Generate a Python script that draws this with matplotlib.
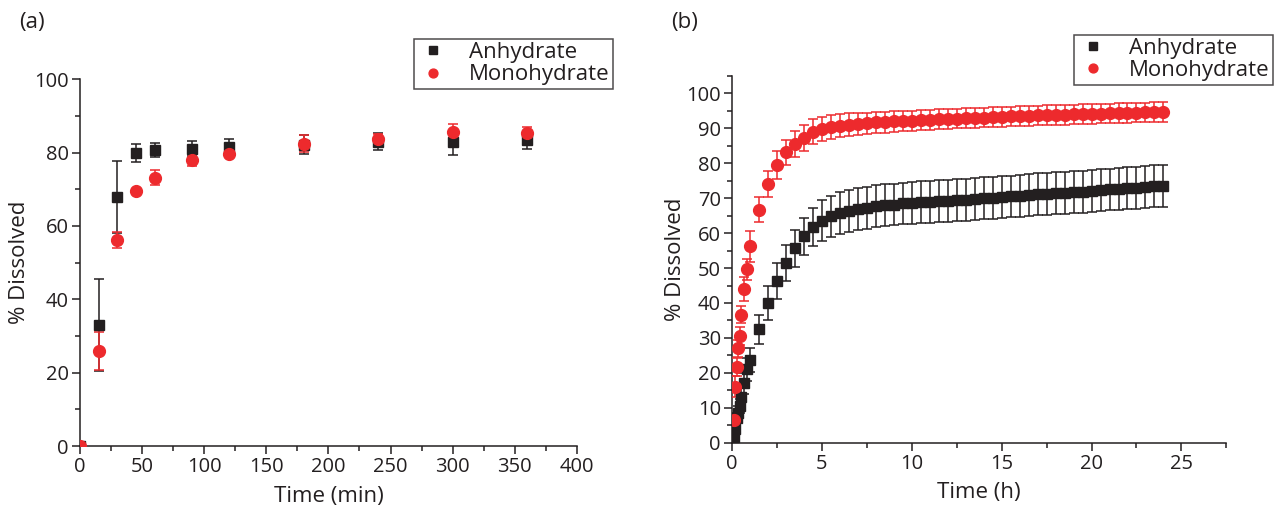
import numpy as np
import matplotlib
matplotlib.use("Agg")
import matplotlib.pyplot as plt
from matplotlib.ticker import MultipleLocator

plt.rcParams['font.family'] = ['Open Sans', 'DejaVu Sans']

BLACK = '#231f20'
RED = '#ed2a2d'

# (a) dissolution over minutes
t_min = [0, 15, 30, 45, 60, 90, 120, 180, 240, 300, 360]
anh_a = [0, 33.0, 67.9, 79.9, 80.7, 81.1, 81.5, 82.2, 83.0, 82.8, 83.3]
anh_a_err = [0, 12.5, 9.7, 2.5, 1.8, 2.0, 2.2, 2.5, 2.3, 3.4, 2.3]
mono_a = [0, 26.0, 56.2, 69.5, 73.2, 78.0, 79.6, 82.4, 83.7, 85.5, 85.3]
mono_a_err = [0, 5.2, 2.1, 0.5, 2.0, 1.7, 0.5, 2.3, 1.5, 2.4, 1.6]

# (b) dissolution over hours
t_h = [0.083, 0.167, 0.25, 0.333, 0.417, 0.5, 0.667, 0.833, 1.0,
       1.5, 2.0, 2.5, 3.0, 3.5, 4.0, 4.5, 5.0, 5.5, 6.0, 6.5, 7.0, 7.5,
       8.0, 8.5, 9.0, 9.5, 10.0, 10.5, 11.0, 11.5, 12.0, 12.5, 13.0, 13.5,
       14.0, 14.5, 15.0, 15.5, 16.0, 16.5, 17.0, 17.5, 18.0, 18.5, 19.0,
       19.5, 20.0, 20.5, 21.0, 21.5, 22.0, 22.5, 23.0, 23.5, 24.0]
anh_b = [1.5, 4.0, 7.0, 8.5, 10.5, 13.2, 17.0, 21.0, 23.7,
         32.5, 40.0, 46.3, 51.5, 55.7, 59.1, 61.8, 63.6, 64.8, 65.7, 66.4,
         67.0, 67.3, 67.7, 68.0, 68.2, 68.5, 68.6, 68.8, 69.0, 69.1, 69.3,
         69.5, 69.6, 69.8, 70.0, 70.1, 70.3, 70.5, 70.7, 70.9, 71.1, 71.2,
         71.4, 71.6, 71.8, 71.9, 72.1, 72.3, 72.5, 72.6, 72.8, 73.0, 73.2,
         73.4, 73.6]
anh_b_err = [0.5, 1.0, 1.5, 2.0, 2.0, 2.5, 3.0, 3.2, 3.5,
             4.2, 4.9, 5.1, 5.2, 5.3, 5.3, 5.5, 5.8, 5.9, 6.0, 6.0, 6.0,
             6.0, 6.0, 6.0, 6.0, 6.0, 6.0, 6.0, 6.0, 6.0, 6.0, 6.0, 6.0,
             6.0, 6.0, 6.0, 6.0, 6.0, 6.0, 6.0, 6.0, 6.0, 6.0, 6.0, 6.0,
             6.0, 6.0, 6.0, 6.0, 6.0, 6.0, 6.0, 6.0, 6.0, 6.0]
mono_b = [6.5, 16.0, 21.7, 27.0, 30.5, 36.7, 44.0, 49.7, 56.2,
          66.7, 74.1, 79.5, 83.2, 85.5, 87.2, 89.0, 89.8, 90.3, 90.8, 91.1,
          91.3, 91.5, 91.7, 91.8, 92.0, 92.1, 92.2, 92.3, 92.5, 92.6, 92.7,
          92.8, 92.9, 93.0, 93.1, 93.2, 93.3, 93.4, 93.5, 93.6, 93.7, 93.8,
          93.8, 93.9, 94.0, 94.1, 94.1, 94.2, 94.3, 94.4, 94.4, 94.5, 94.6,
          94.7, 94.7]
mono_b_err = [1.0, 3.0, 2.5, 2.5, 2.5, 2.5, 3.5, 3.0, 4.5,
              3.6, 3.7, 4.0, 3.6, 3.8, 3.8, 3.6, 3.5, 3.4, 3.3, 3.2, 3.1,
              3.0, 3.0, 3.0, 3.0, 2.9, 2.9, 2.9, 2.9, 2.9, 2.9, 2.8, 2.8,
              2.8, 2.8, 2.8, 2.8, 2.8, 2.8, 2.8, 2.8, 2.8, 2.8, 2.8, 2.8,
              2.8, 2.8, 2.8, 2.8, 2.8, 2.8, 2.8, 2.8, 2.8, 2.8]

fig = plt.figure(figsize=(12.74, 5.11), dpi=100)
ax1 = fig.add_axes([0.0628, 0.127, 0.390, 0.718])
ax2 = fig.add_axes([0.5746, 0.1337, 0.388, 0.7176])

TICK_FS = 14.5
LABEL_FS = 16


def style(ax):
    for s in ['top', 'right']:
        ax.spines[s].set_visible(False)
    for s in ['left', 'bottom']:
        ax.spines[s].set_linewidth(1.1)
        ax.spines[s].set_color(BLACK)
    ax.tick_params(which='major', direction='out', length=6, width=1.1,
                   labelsize=TICK_FS, colors=BLACK, pad=2)
    ax.tick_params(which='minor', direction='out', length=3.5, width=1.1,
                   colors=BLACK)


def series(ax, x, y, err, color, marker, ms, label):
    ax.errorbar(x, y, yerr=err, fmt=marker, color=color, ms=ms, mec=color,
                mfc=color, ecolor=color, elinewidth=1.1, capsize=3.5,
                capthick=1.1, label=label, zorder=3)


series(ax1, t_min, anh_a, anh_a_err, BLACK, 's', 7, 'Anhydrate')
series(ax1, t_min, mono_a, mono_a_err, RED, 'o', 8.5, 'Monohydrate')
ax1.set_xlim(0, 400)
ax1.set_ylim(0, 100)
ax1.xaxis.set_major_locator(MultipleLocator(50))
ax1.xaxis.set_minor_locator(MultipleLocator(25))
ax1.yaxis.set_major_locator(MultipleLocator(20))
ax1.yaxis.set_minor_locator(MultipleLocator(10))
style(ax1)
ax1.set_xlabel('Time (min)', fontsize=LABEL_FS, color=BLACK, labelpad=6)
ax1.set_ylabel('% Dissolved', fontsize=LABEL_FS, color=BLACK, labelpad=3)

series(ax2, t_h, anh_b, anh_b_err, BLACK, 's', 7, 'Anhydrate')
series(ax2, t_h, mono_b, mono_b_err, RED, 'o', 8.5, 'Monohydrate')
ax2.set_xlim(0, 27.5)
ax2.set_ylim(0, 105)
ax2.xaxis.set_major_locator(MultipleLocator(5))
ax2.xaxis.set_minor_locator(MultipleLocator(2.5))
ax2.yaxis.set_major_locator(MultipleLocator(10))
ax2.yaxis.set_minor_locator(MultipleLocator(5))
style(ax2)
ax2.set_xlabel('Time (h)', fontsize=LABEL_FS, color=BLACK, labelpad=6)
ax2.set_ylabel('% Dissolved', fontsize=LABEL_FS, color=BLACK, labelpad=0)


def legend(ax, anchor):
    h, l = ax.get_legend_handles_labels()
    h = [hh[0] for hh in h]
    leg = ax.legend(h, l, loc='upper right', bbox_to_anchor=anchor,
                    bbox_transform=fig.transFigure, fontsize=LABEL_FS,
                    frameon=True, fancybox=False, borderpad=0.15,
                    handlelength=1.4, handletextpad=0.9, labelspacing=0.05,
                    borderaxespad=0, markerscale=0.75)
    leg.get_frame().set_edgecolor(BLACK)
    leg.get_frame().set_linewidth(1.1)
    for t in leg.get_texts():
        t.set_color(BLACK)


legend(ax1, (0.481, 0.924))
legend(ax2, (0.999, 0.932))

fig.text(0.015, 0.955, '(a)', fontsize=LABEL_FS, color=BLACK, va='center')
fig.text(0.527, 0.955, '(b)', fontsize=LABEL_FS, color=BLACK, va='center')

fig.savefig('out.png', dpi=100)
